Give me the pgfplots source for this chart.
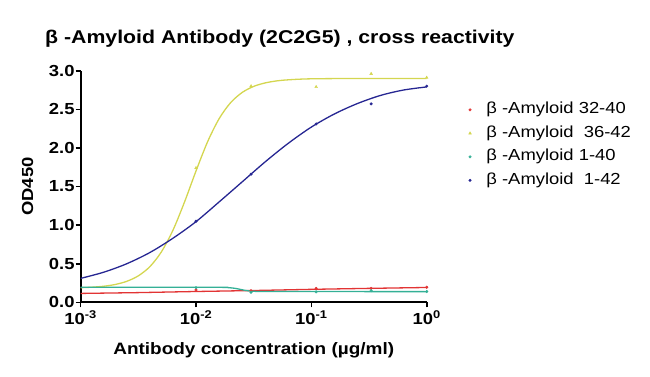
\documentclass[border=0pt]{standalone}
\usepackage{fontspec}
\setmainfont{Liberation Sans}[FakeStretch=1.15]
\usepackage{pgfplots}
\pgfplotsset{compat=1.18}
\definecolor{cred}{RGB}{226,52,52}
\definecolor{cyel}{RGB}{212,214,80}
\definecolor{cteal}{RGB}{52,176,150}
\definecolor{cblue}{RGB}{38,38,146}
\newcommand{\fs}[1]{\fontsize{#1}{#1}\selectfont}

\pgfplotstableread{
x y
0.001 0.189
0.001259 0.196
0.001585 0.208
0.001995 0.231
0.002512 0.272
0.003162 0.343
0.003981 0.462
0.005012 0.654
0.006310 0.934
0.007943 1.298
0.01 1.702
0.01259 2.079
0.01585 2.378
0.01995 2.586
0.02512 2.718
0.03162 2.797
0.03981 2.842
0.05012 2.868
0.06310 2.882
0.1 2.895
0.3 2.90
1 2.90
}\yelcurve

\pgfplotstableread{
x y
0.001 0.31
0.001585 0.39
0.002512 0.50
0.003981 0.645
0.006310 0.83
0.01 1.045
0.01585 1.30
0.02512 1.56
0.03981 1.82
0.06310 2.06
0.1 2.27
0.1585 2.44
0.2512 2.575
0.3981 2.68
0.6310 2.75
1 2.79
}\bluecurve

\pgfplotstableread{
x y
0.001 0.115
0.003 0.125
0.01 0.14
0.03 0.152
0.1 0.168
0.3 0.18
1 0.192
}\redcurve

\pgfplotstableread{
x y
0.001 0.195
0.015 0.194
0.019 0.19
0.022 0.18
0.025 0.163
0.028 0.15
0.032 0.143
0.045 0.14
1 0.138
}\tealcurve

\begin{document}
\begin{tikzpicture}[x=1pt,y=1pt]
\path[use as bounding box] (0,0) rectangle (650,376);
\begin{axis}[
  at={(80.7pt,73.7pt)}, anchor=south west,
  scale only axis, width=346pt, height=231.6pt,
  xmode=log, xmin=0.001, xmax=1, ymin=0, ymax=3,
  axis x line=bottom, axis y line=left,
  axis line style={-, line width=2pt, black},
  xtick={0.001,0.01,0.1,1},
  xticklabels={10\textsuperscript{-3},10\textsuperscript{-2},10\textsuperscript{-1},10\textsuperscript{0}},
  xminorticks=false,
  ytick={0,0.5,1,1.5,2,2.5,3},
  yticklabels={0.0,0.5,1.0,1.5,2.0,2.5,3.0},
  tick align=outside, major tick length=5pt,
  tick style={line width=1.6pt, black},
  ticklabel style={font=\bfseries\fs{16}},
  yticklabel style={inner sep=1pt},
  legend image code/.code={\draw[#1] plot coordinates {(0pt,0pt)};},
  legend style={at={(1.112,0.875)}, anchor=north west, draw=none, fill=none,
    font=\fs{16}, row sep=7.5pt, column sep=14pt,
    nodes={inner sep=1pt, text height=11pt, text depth=3pt}},
  legend cell align=left,
]
\addplot[cred, line width=1.3pt, forget plot] table {\redcurve};
\addplot[cyel, line width=1.3pt, smooth, forget plot] table {\yelcurve};
\addplot[cteal, line width=1.3pt, smooth, forget plot] table {\tealcurve};
\addplot[cblue, line width=1.3pt, smooth, forget plot] table {\bluecurve};

\addplot[only marks, mark=*, mark size=1.3pt, cred] coordinates {(0.01,0.16) (0.03,0.15) (0.11,0.18) (0.33,0.18) (1,0.195)};
\addlegendentry{β -Amyloid 32-40}
\addplot[only marks, mark=triangle*, mark size=1.6pt, cyel] coordinates {(0.01,1.74) (0.03,2.80) (0.11,2.79) (0.33,2.96) (1,2.91)};
\addlegendentry{β -Amyloid\ \ 36-42}
\addplot[only marks, mark=*, mark size=1.3pt, cteal] coordinates {(0.01,0.19) (0.03,0.13) (0.11,0.135) (0.33,0.15) (1,0.14)};
\addlegendentry{β -Amyloid 1-40}
\addplot[only marks, mark=*, mark size=1.3pt, cblue] coordinates {(0.01,1.05) (0.03,1.66) (0.11,2.31) (0.33,2.57) (1,2.80)};
\addlegendentry{β -Amyloid\ \ 1-42}
\end{axis}
\node[anchor=base west, font=\bfseries\fs{18.5}, inner sep=0pt] at (45,332.7) {β -Amyloid Antibody (2C2G5) , cross reactivity};
\node[anchor=base, font=\bfseries\fs{16.5}, inner sep=0pt] at (253.7,22) {Antibody concentration (µg/ml)};
\node[rotate=90, font=\bfseries\fs{16}, inner sep=0pt] at (27.7,189.5) {OD450};
\end{tikzpicture}
\end{document}
